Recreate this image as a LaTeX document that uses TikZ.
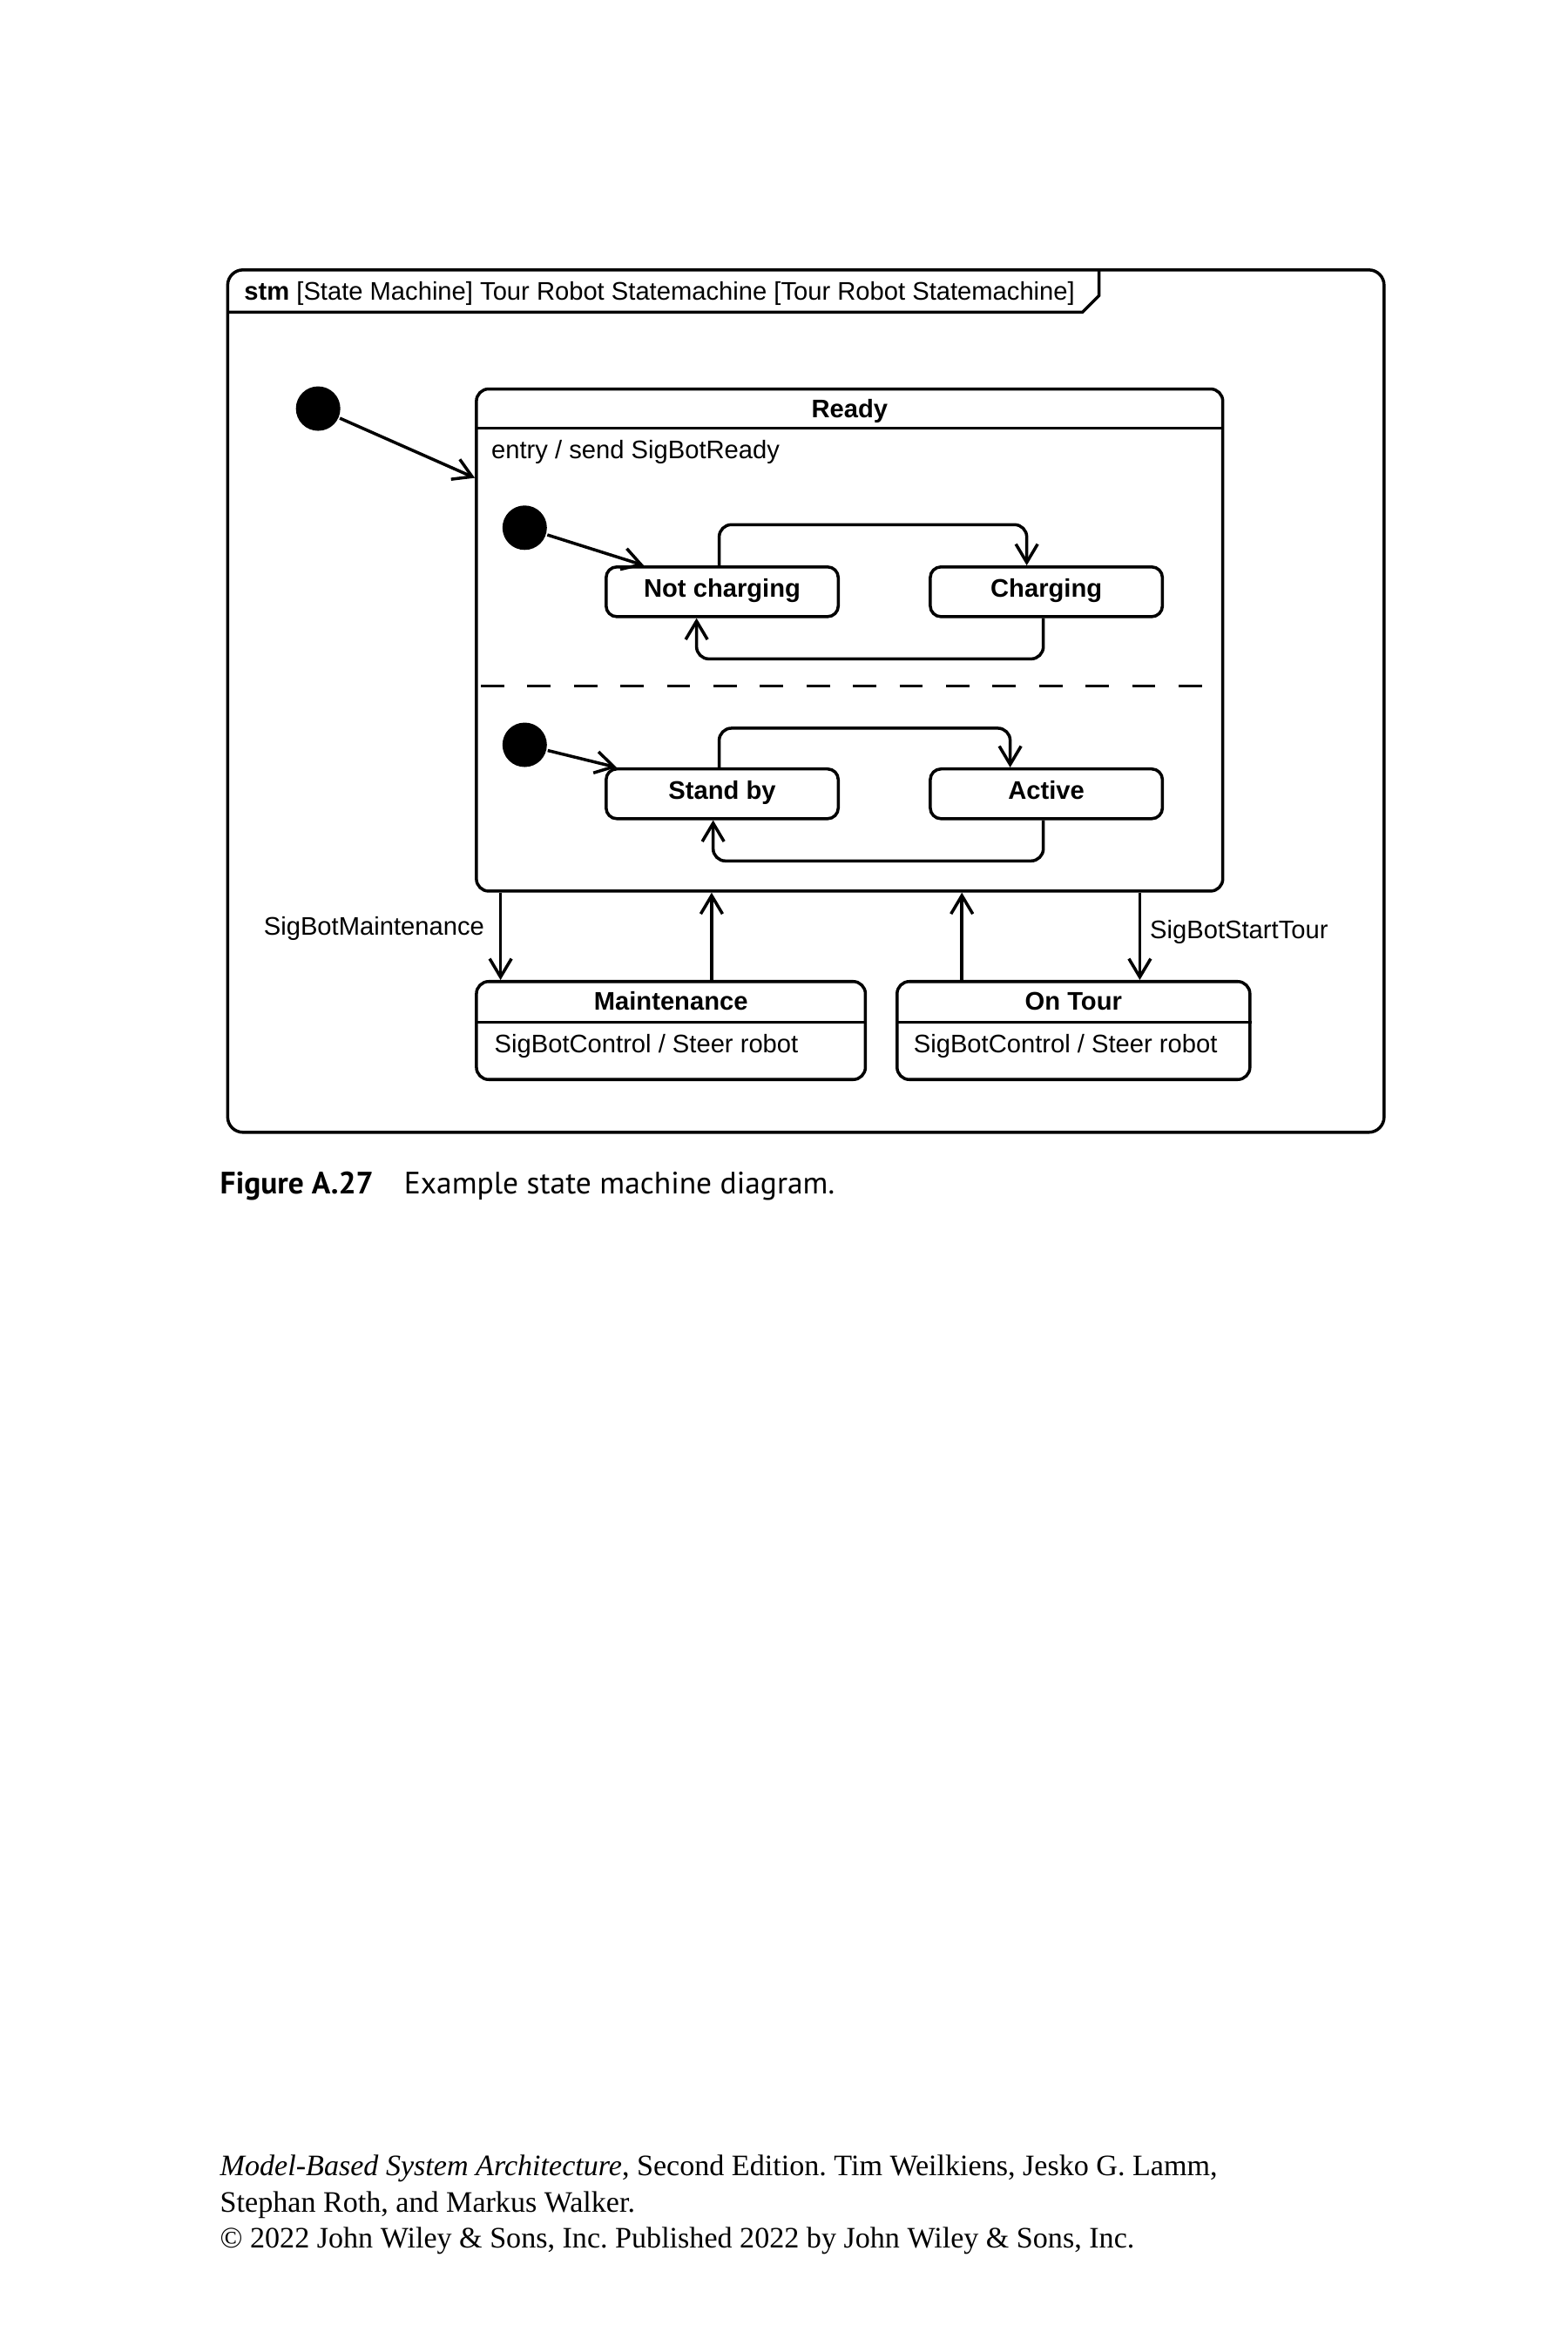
\documentclass[tikz,border=0pt]{standalone}
\usepackage{fontspec}
\setmainfont{Liberation Serif}
\setsansfont{Liberation Sans}
\newfontfamily\capfont{PT Sans}
\usetikzlibrary{arrows.meta,calc}
\frenchspacing

\begin{document}
\begin{tikzpicture}[x=0.17308mm,y=-0.17308mm,line width=1pt,
  lbl/.style={inner sep=0pt,text height=6pt,text depth=0pt,font=\sffamily\fontsize{8.3}{10}\selectfont},
  namelbl/.style={lbl,font=\sffamily\bfseries\fontsize{8.3}{10}\selectfont},
  simplestate/.style={draw,rounded corners=3.5pt,minimum width=26.65mm,minimum height=5.71mm,namelbl,text depth=2.4pt},
  bigstate/.style={draw,rounded corners=4pt,inner sep=0pt},
  initial/.style={circle,fill=black,minimum size=5.1mm,inner sep=0pt},
  tr/.style={-{Straight Barb[length=2.1mm,width=2.5mm]}},
  foot/.style={anchor=base west,inner sep=0pt,font=\fontsize{9.7}{12}\selectfont}]
\useasboundingbox (0,0) rectangle (1040,1560);

% frame
\draw[rounded corners=5pt] (151,179) rectangle (918,751);
\draw (151,207) -- (718,207) -- (729,196) -- (729,179);
\node[lbl,anchor=west] (title) at (161,193) {\textbf{stm} [State Machine] Tour Robot Statemachine [Tour Robot Statemachine]};

% Ready
\node[initial] (init) at (211,271) {};
\node[bigstate,minimum width=85.68mm,minimum height=57.64mm] (ready) at (563.5,424.5) {};
\draw ($(ready.north west)+(0,27)$) -- ($(ready.north east)+(0,27)$);
\node[namelbl] (readyname) at ($(ready.north)+(0,14)$) {Ready};
\node[lbl,anchor=west] (entry) at ($(ready.north west)+(10,41)$) {entry / send SigBotReady};
\draw[dash pattern=on 2.67mm off 2.67mm] ($(ready.north west)+(4,198)$) -- ($(ready.north east)+(-3,198)$);
\draw[tr] (init) -- ($(ready.north west)+(0,60)$);

% region 1
\node[initial] (init1) at (348,350) {};
\node[simplestate] (nc) at (479,392.5) {Not charging};
\node[simplestate] (ch) at (694,392.5) {Charging};
\draw[tr] (init1) -- ($(nc.north west)+(26,0)$);
\draw[tr,rounded corners=4pt] ($(nc.north)+(-2,0)$) -- ++(0,-27) -| ($(ch.north)+(-13,0)$);
\draw[tr,rounded corners=4pt] ($(ch.south)+(-2,0)$) -- ++(0,27) -| ($(nc.south)+(-17,0)$);

% region 2
\node[initial] (init2) at (348,494) {};
\node[simplestate] (sb) at (479,526.5) {Stand by};
\node[simplestate] (ac) at (694,526.5) {Active};
\draw[tr] (init2) -- ($(sb.north west)+(8,0)$);
\draw[tr,rounded corners=4pt] ($(sb.north)+(-2,0)$) -- ++(0,-26) -| ($(ac.north)+(-24,0)$);
\draw[tr,rounded corners=4pt] ($(ac.south)+(-2,0)$) -- ++(0,27) -| ($(sb.south)+(-6,0)$);

% Maintenance, On Tour
\node[bigstate,minimum width=44.65mm,minimum height=11.25mm] (maint) at (445,683.5) {};
\draw ($(maint.north west)+(0,28)$) -- ($(maint.north east)+(0,28)$);
\node[namelbl] (maintname) at ($(maint.north)+(0,14)$) {Maintenance};
\node[lbl,anchor=west] (maintdo) at ($(maint.north west)+(12,42)$) {SigBotControl / Steer robot};

\node[bigstate,minimum width=40.5mm,minimum height=11.25mm] (tour) at (712,683.5) {};
\draw ($(tour.north west)+(0,28)$) -- ($(tour.north east)+(0,28)$);
\node[namelbl] (tourname) at ($(tour.north)+(0,14)$) {On Tour};
\node[lbl,anchor=west] (tourdo) at ($(tour.north west)+(11,42)$) {SigBotControl / Steer robot};

\coordinate (m1) at ($(maint.north west)+(17,0)$);
\coordinate (m2) at ($(maint.north west)+(157,0)$);
\coordinate (o1) at ($(tour.north west)+(44,0)$);
\coordinate (o2) at ($(tour.north west)+(162,0)$);
\draw[tr] (ready.south -| m1) -- (m1) node[lbl,pos=0.38,left=1.7mm] (lblmaint) {SigBotMaintenance};
\draw[tr] (m2) -- (ready.south -| m2);
\draw[tr] (o1) -- (ready.south -| o1);
\draw[tr] (ready.south -| o2) -- (o2) node[lbl,pos=0.42,right=1mm] (lbltour) {SigBotStartTour};

% caption and footer
\node[anchor=base west,inner sep=0pt,font=\capfont\bfseries\fontsize{10.1}{12}\selectfont] (fignum) at (145,792) {Figure A.27};
\node[anchor=base west,inner sep=0pt,font=\capfont\fontsize{10.1}{12}\selectfont] (figtext) at (267,792) {Example state machine diagram.};
\node[foot] (foot1) at (145,1443) {\textit{Model-Based System Architecture}, Second Edition. Tim Weilkiens, Jesko G. Lamm,};
\node[foot] (foot2) at (145,1467) {Stephan Roth, and Markus Walker.};
\node[foot] (foot3) at (145,1491) {© 2022 John Wiley \& Sons, Inc. Published 2022 by John Wiley \& Sons, Inc.};
\end{tikzpicture}
\end{document}
